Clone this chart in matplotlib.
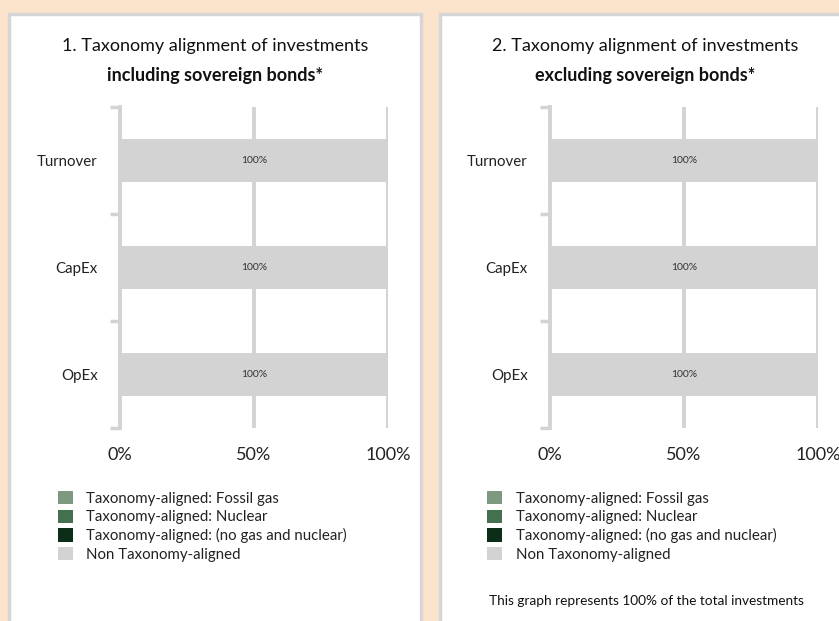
import matplotlib.pyplot as plt
from matplotlib.patches import Rectangle

plt.rcParams['font.family'] = ['Lato', 'DejaVu Sans']

categories = ['Turnover', 'CapEx', 'OpEx']
series_names = ['Taxonomy-aligned: Fossil gas',
                'Taxonomy-aligned: Nuclear',
                'Taxonomy-aligned: (no gas and nuclear)',
                'Non Taxonomy-aligned']
colors = ['#7d9a80', '#43704e', '#0c2e18', '#d2d3d2']

# chart 1 (including sovereign bonds)
incl_fossil = [0, 0, 0]
incl_nuclear = [0, 0, 0]
incl_other = [0, 0, 0]
incl_non = [100, 100, 100]
# chart 2 (excluding sovereign bonds)
excl_fossil = [0, 0, 0]
excl_nuclear = [0, 0, 0]
excl_other = [0, 0, 0]
excl_non = [100, 100, 100]

xticks = [0, 50, 100]
xticklabels = ['0%', '50%', '100%']

W, H = 839, 621
fig = plt.figure(figsize=(W / 100, H / 100), dpi=100)
fig.patch.set_facecolor('#fbe3cc')

def px(x, y):
    return x / W, 1 - y / H

# white panels
for x0, x1 in [(9, 421), (440, 860)]:
    fig.patches.append(Rectangle(px(x0, 640), (x1 - x0) / W, (640 - 14) / H,
                                 transform=fig.transFigure, facecolor='white',
                                 edgecolor='#d6d6d6', linewidth=2.5, zorder=-5))

grid_col = '#d2d3d2'

def draw(left, values, title1, title2, tcx, legx):
    ax = fig.add_axes([left / W, (H - 428) / H, 268 / W, 321 / H])
    ax.set_facecolor('none')
    ypos = list(range(len(categories)))
    cum = [0] * len(categories)
    conts = []
    for vals, name, col in zip(values, series_names, colors):
        c = ax.barh(ypos, vals, left=cum, height=0.4, color=col, label=name, zorder=3)
        conts.append(c)
        cum = [a + b for a, b in zip(cum, vals)]
    ax.bar_label(conts[-1], labels=['%d%%' % v for v in values[-1]],
                 label_type='center', fontsize=7.5, color='#333333', zorder=4)
    ax.set_xlim(0, 100)
    ax.set_ylim(len(categories) - 0.5, -0.5)
    ax.set_yticks(ypos)
    ax.set_yticklabels(categories, fontsize=10.8, color='#222222')
    ax.set_yticks([-0.5, 0.5, 1.5, 2.5], minor=True)
    ax.tick_params(axis='y', which='major', length=0, pad=16)
    ax.tick_params(axis='y', which='minor', length=7, width=2.5, color=grid_col)
    ax.set_xticks(xticks)
    ax.set_xticklabels(xticklabels, fontsize=13, color='#222222')
    ax.tick_params(axis='x', length=0, pad=14)
    for xv in xticks[1:]:
        ax.axvline(xv, color=grid_col, linewidth=2.8, zorder=1)
    for s in ['top', 'right', 'bottom']:
        ax.spines[s].set_visible(False)
    ax.spines['left'].set_color(grid_col)
    ax.spines['left'].set_linewidth(2.8)
    ax.spines['left'].set_zorder(1)
    fig.text(tcx / W, 1 - 46 / H, title1, ha='center', va='center',
             fontsize=13, color='#111111')
    fig.text(tcx / W, 1 - 75 / H, title2, ha='center', va='center',
             fontsize=13, fontweight='bold', color='#111111')
    fig.legend(handles=conts, loc='upper left',
               bbox_to_anchor=((legx - 11) / W, 1 - 479 / H), frameon=False,
               fontsize=10.8, handlelength=1.0, handleheight=1.0,
               handletextpad=0.9, labelspacing=0.25, borderpad=0.3,
               labelcolor='#222222')
    return ax

draw(120, [incl_fossil, incl_nuclear, incl_other, incl_non],
     '1. Taxonomy alignment of investments', 'including sovereign bonds*', 215, 57)
draw(550, [excl_fossil, excl_nuclear, excl_other, excl_non],
     '2. Taxonomy alignment of investments', 'excluding sovereign bonds*', 645, 486)

fig.text(646 / W, 1 - 601 / H, 'This graph represents 100% of the total investments',
         ha='center', va='center', fontsize=9.8, color='#111111')

fig.savefig('out.png', dpi=100, facecolor=fig.get_facecolor())
